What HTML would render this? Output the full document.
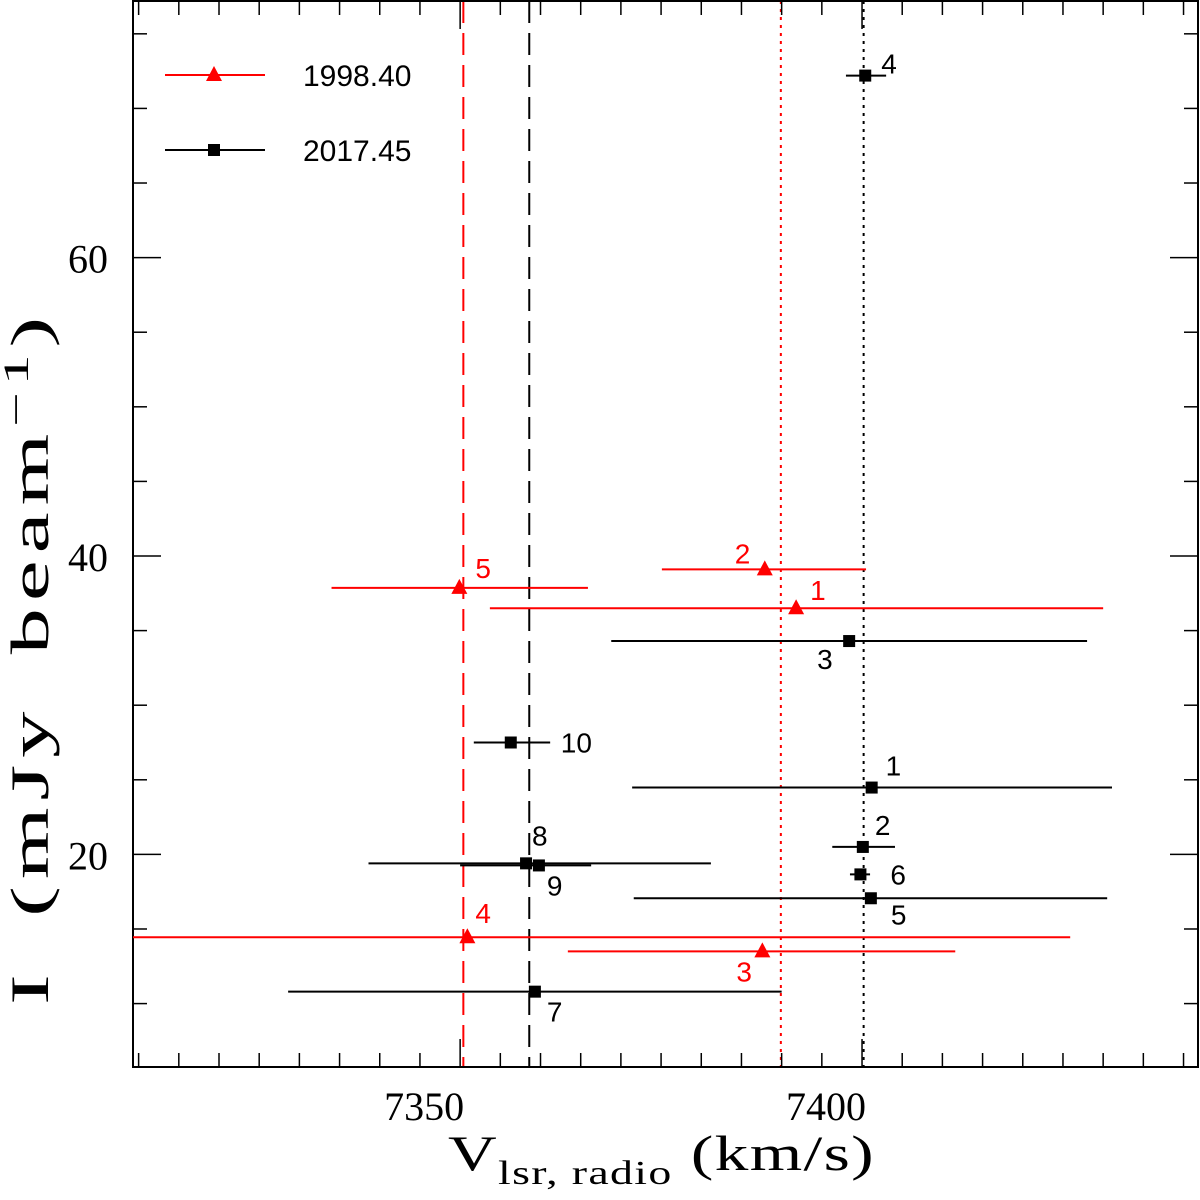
<!DOCTYPE html>
<html><head><meta charset="utf-8"><style>
html,body{margin:0;padding:0;background:#fff;}
svg{display:block;}
text{font-family:"Liberation Sans",sans-serif;}
text.serif{font-family:"Liberation Serif",serif;}
</style></head><body>
<svg id="c" width="1200" height="1200" xmlns="http://www.w3.org/2000/svg"></svg>
<script>
const redNames=["1","2","3","4","5"];
const redV=[7391.8,7387.9,7387.6,7350.9,7349.9];
const redI=[36.5,39.1,13.5,14.45,37.86];
const redLo=[7353.7,7375.1,7363.4,7309.3,7334.0];
const redHi=[7430.0,7400.5,7411.6,7425.9,7365.9];
const blkNames=["1","2","3","4","5","6","7","8","9","10"];
const blkV=[7401.2,7400.1,7398.4,7400.4,7401.1,7399.8,7359.3,7358.2,7359.8,7356.3];
const blkI=[24.48,20.5,34.3,72.2,17.06,18.66,10.8,19.4,19.26,27.5];
const blkLo=[7371.4,7396.3,7368.8,7398.0,7371.6,7398.5,7328.6,7338.6,7350.0,7351.7];
const blkHi=[7431.1,7404.1,7428.0,7403.0,7430.5,7401.0,7390.0,7381.2,7366.3,7361.2];
const xTicks=[7350,7400];
const yTicks=[20,40,60];
const vLines=[7350.4,7358.6,7389.9,7400.2];
</script>
<script>
const NS="http://www.w3.org/2000/svg";
const svg=document.getElementById('c');
const L=133,R=1198,T=1,B=1067;
const x0=7309.3,x1=7441.8,y0=5.75,y1=77.2;
const X=v=>L+(v-x0)/(x1-x0)*(R-L);
const Y=v=>B-(v-y0)/(y1-y0)*(B-T);
function el(tag,attrs,parent){const e=document.createElementNS(NS,tag);for(const k in attrs)e.setAttribute(k,attrs[k]);(parent||svg).appendChild(e);return e;}
const vStyles=[["red","22,10"],["black","22,10"],["red","3,5"],["black","3,5"]];
vLines.forEach((v,i)=>{const l=el('line',{x1:X(v),x2:X(v),y1:T,y2:B,stroke:vStyles[i][0],'stroke-width':2,'stroke-dasharray':vStyles[i][1]});

});
const f=el('rect',{x:L,y:T,width:R-L,height:B-T,fill:'none',stroke:'black','stroke-width':2});

for(let v=7310;v<=7440;v+=5){const maj=v%50===0;const len=maj?28:14;const px=X(v);
el('line',{x1:px,x2:px,y1:B,y2:B-len,stroke:'black','stroke-width':1.5});
el('line',{x1:px,x2:px,y1:T,y2:T+len,stroke:'black','stroke-width':1.5});}
for(let v=10;v<=75;v+=5){const maj=v%20===0;const len=maj?28:14;const py=Y(v);
el('line',{x1:L,x2:L+len,y1:py,y2:py,stroke:'black','stroke-width':1.5});
el('line',{x1:R,x2:R-len,y1:py,y2:py,stroke:'black','stroke-width':1.5});}
xTicks.forEach(v=>{const t=el('text',{x:X(v)-36,y:1120,'text-anchor':'middle','font-size':40,class:'serif'});t.textContent=v;
});
yTicks.forEach(v=>{const t=el('text',{x:108,y:Y(v)+15,'text-anchor':'end','font-size':40,class:'serif'});t.textContent=v;
});
const xt=el('text',{x:448,y:1170,'font-size':50,class:'serif','letter-spacing':1,textLength:427,lengthAdjust:'spacingAndGlyphs'});
xt.innerHTML='V<tspan font-size="34" dy="14">lsr, radio</tspan><tspan dy="-14"> (km/s)</tspan>';

const yt=el('text',{x:0,y:0,'font-size':54,class:'serif','letter-spacing':4,'word-spacing':12,textLength:695,lengthAdjust:'spacingAndGlyphs',transform:'translate(48,1005) rotate(-90)'});
yt.innerHTML='I (mJy beam<tspan font-size="36" dy="-20">−1</tspan><tspan dy="20">)</tspan>';

function tri(cx,cy,g){el('polygon',{points:`${cx},${cy-9} ${cx-8},${cy+6} ${cx+8},${cy+6}`,fill:'red'},g);}
function sq(cx,cy,g){el('rect',{x:cx-6,y:cy-6,width:12,height:12,fill:'black'},g);}
const redOff=[[14,-8],[-30,-6],[-26,30],[8,-14],[16,-10]];
const blkOff=[[14,-12],[12,-12],[-32,28],[16,-2],[20,26],[30,10],[12,30],[6,-18],[8,30],[50,10]];
redV.forEach((v,i)=>{const g=el('g',{});
el('line',{x1:X(redLo[i]),x2:X(redHi[i]),y1:Y(redI[i]),y2:Y(redI[i]),stroke:'red','stroke-width':2},g);
tri(X(v),Y(redI[i]),g);
const t=el('text',{x:X(v)+redOff[i][0],y:Y(redI[i])+redOff[i][1],fill:'red','font-size':28},g);t.textContent=redNames[i];});
blkV.forEach((v,i)=>{const g=el('g',{});
el('line',{x1:X(blkLo[i]),x2:X(blkHi[i]),y1:Y(blkI[i]),y2:Y(blkI[i]),stroke:'black','stroke-width':2},g);
sq(X(v),Y(blkI[i]),g);
const t=el('text',{x:X(v)+blkOff[i][0],y:Y(blkI[i])+blkOff[i][1],fill:'black','font-size':28},g);t.textContent=blkNames[i];});
const lg=el('g',{});
const e1=el('g',{},lg);
el('line',{x1:165,x2:265,y1:75,y2:75,stroke:'red','stroke-width':2},e1);tri(214,75,e1);
let t=el('text',{x:303,y:86,'font-size':30},e1);t.textContent='1998.40';
const e2=el('g',{},lg);
el('line',{x1:165,x2:265,y1:150,y2:150,stroke:'black','stroke-width':2},e2);sq(214,150,e2);
t=el('text',{x:303,y:161,'font-size':30},e2);t.textContent='2017.45';
</script>
</body></html>
